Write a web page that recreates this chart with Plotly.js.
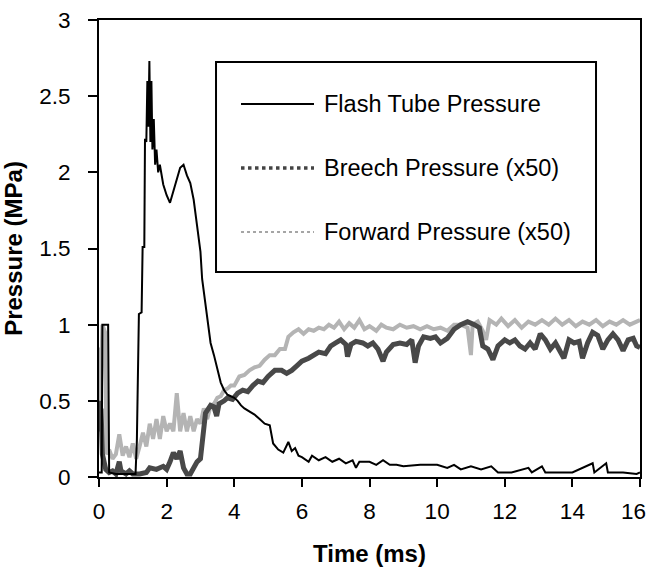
<!DOCTYPE html>
<html>
<head>
<meta charset="utf-8">
<script src="https://cdn.plot.ly/plotly-3.0.1.min.js"></script>
<style>html,body{margin:0;padding:0;background:#fff;}#chart{width:649px;height:570px;}</style>
</head>
<body>
<div id="chart"></div>
<script>
// ---- Data ----
var seriesNames = ["Flash Tube Pressure", "Breech Pressure (x50)", "Forward Pressure (x50)"];

var flashT = [0, 0.08, 0.1, 0.27, 0.3, 0.5, 0.8, 1.0, 1.08, 1.12, 1.18, 1.26, 1.29, 1.34, 1.36, 1.4, 1.43, 1.46, 1.49, 1.52, 1.55, 1.58, 1.62, 1.66, 1.7, 1.75, 1.8, 1.9, 2.0, 2.1, 2.2, 2.3, 2.4, 2.5, 2.6, 2.7, 2.8, 2.9, 3.0, 3.05, 3.1, 3.2, 3.3, 3.4, 3.5, 3.6, 3.7, 3.8, 3.9, 4.0, 4.1, 4.2, 4.3, 4.45, 4.6, 4.75, 4.9, 5.05, 5.1, 5.15, 5.3, 5.45, 5.6, 5.7, 5.8, 5.9, 6.0, 6.2, 6.3, 6.5, 6.7, 6.9, 7.1, 7.3, 7.5, 7.6, 7.7, 8.0, 8.2, 8.4, 8.6, 8.8, 9.0, 9.5, 10.0, 10.3, 10.5, 10.7, 11.0, 11.3, 11.6, 11.8, 12.2, 12.7, 12.8, 13.1, 13.2, 14.0, 14.6, 14.65, 15.0, 15.05, 15.5, 15.9, 16.0];
var flashP = [0.03, 0.03, 1.0, 1.0, 0.03, 0.02, 0.02, 0.02, 0.02, 0.24, 1.07, 1.08, 1.51, 1.51, 2.22, 2.2, 2.6, 2.3, 2.73, 2.2, 2.6, 2.15, 2.35, 2.05, 2.15, 2.0, 2.05, 1.92, 1.85, 1.80, 1.88, 1.95, 2.03, 2.05, 1.98, 1.93, 1.82, 1.65, 1.48, 1.30, 1.22, 1.05, 0.88, 0.80, 0.70, 0.62, 0.57, 0.54, 0.53, 0.52, 0.50, 0.47, 0.45, 0.43, 0.41, 0.38, 0.35, 0.34, 0.27, 0.22, 0.18, 0.16, 0.23, 0.17, 0.19, 0.14, 0.13, 0.10, 0.14, 0.11, 0.13, 0.10, 0.12, 0.09, 0.11, 0.06, 0.10, 0.10, 0.08, 0.11, 0.08, 0.08, 0.07, 0.08, 0.08, 0.06, 0.08, 0.05, 0.07, 0.05, 0.07, 0.03, 0.03, 0.06, 0.03, 0.07, 0.03, 0.03, 0.09, 0.03, 0.09, 0.03, 0.03, 0.02, 0.03];

var breechT = [0, 0.03, 0.06, 0.1, 0.15, 0.2, 0.3, 0.4, 0.5, 0.6, 0.65, 0.8, 0.9, 1.0, 1.2, 1.4, 1.5, 1.7, 1.9, 2.0, 2.1, 2.2, 2.3, 2.4, 2.5, 2.6, 2.7, 2.8, 2.9, 3.0, 3.05, 3.15, 3.3, 3.4, 3.48, 3.55, 3.7, 3.8, 3.95, 4.1, 4.25, 4.4, 4.55, 4.7, 4.85, 5.0, 5.2, 5.4, 5.55, 5.7, 5.85, 6.0, 6.2, 6.35, 6.5, 6.7, 6.85, 7.0, 7.15, 7.3, 7.35, 7.45, 7.6, 7.8, 7.95, 8.1, 8.25, 8.4, 8.5, 8.7, 8.9, 9.1, 9.25, 9.35, 9.45, 9.6, 9.8, 9.95, 10.1, 10.3, 10.5, 10.7, 10.9, 11.1, 11.25, 11.35, 11.5, 11.65, 11.8, 12.0, 12.15, 12.3, 12.45, 12.6, 12.75, 12.9, 13.05, 13.2, 13.35, 13.5, 13.65, 13.75, 13.9, 14.05, 14.2, 14.3, 14.45, 14.6, 14.75, 14.9, 15.05, 15.2, 15.35, 15.5, 15.65, 15.8, 15.9, 16.0];
var breechP = [0.5, 0.3, 0.45, 0.15, 0.1, 0.05, 0.03, 0.04, 0.02, 0.1, 0.04, 0.02, 0.04, 0.02, 0.02, 0.03, 0.06, 0.05, 0.07, 0.05, 0.1, 0.16, 0.12, 0.17, 0.06, 0.02, 0.02, 0.07, 0.1, 0.12, 0.25, 0.42, 0.47, 0.46, 0.40, 0.48, 0.50, 0.52, 0.51, 0.55, 0.57, 0.56, 0.60, 0.63, 0.62, 0.66, 0.70, 0.70, 0.68, 0.70, 0.73, 0.76, 0.78, 0.80, 0.82, 0.81, 0.86, 0.88, 0.90, 0.87, 0.79, 0.87, 0.89, 0.88, 0.86, 0.88, 0.84, 0.76, 0.82, 0.87, 0.88, 0.87, 0.90, 0.75, 0.86, 0.92, 0.91, 0.92, 0.88, 0.91, 0.97, 1.00, 1.02, 1.00, 0.98, 0.86, 0.84, 0.77, 0.86, 0.90, 0.88, 0.90, 0.86, 0.84, 0.88, 0.84, 0.94, 0.90, 0.84, 0.88, 0.82, 0.78, 0.90, 0.88, 0.89, 0.78, 0.88, 0.95, 0.93, 0.84, 0.90, 0.94, 0.90, 0.83, 0.90, 0.91, 0.86, 0.85];

var forwardT = [0, 0.05, 0.1, 0.18, 0.22, 0.3, 0.4, 0.5, 0.6, 0.7, 0.8, 0.9, 1.0, 1.1, 1.2, 1.3, 1.4, 1.5, 1.6, 1.7, 1.8, 1.9, 2.0, 2.1, 2.2, 2.3, 2.4, 2.5, 2.6, 2.7, 2.8, 2.9, 3.0, 3.1, 3.2, 3.3, 3.4, 3.5, 3.6, 3.7, 3.8, 3.9, 4.0, 4.15, 4.3, 4.45, 4.6, 4.75, 4.9, 5.05, 5.2, 5.35, 5.5, 5.6, 5.75, 5.9, 6.05, 6.2, 6.35, 6.5, 6.65, 6.8, 6.95, 7.1, 7.25, 7.4, 7.55, 7.7, 7.85, 8.0, 8.2, 8.35, 8.5, 8.7, 8.9, 9.1, 9.3, 9.5, 9.7, 9.9, 10.1, 10.3, 10.5, 10.7, 10.9, 11.0, 11.05, 11.2, 11.35, 11.45, 11.55, 11.75, 11.9, 12.1, 12.3, 12.5, 12.7, 12.9, 13.1, 13.3, 13.5, 13.7, 13.9, 14.1, 14.3, 14.5, 14.7, 14.9, 15.1, 15.3, 15.5, 15.7, 15.9, 16.0];
var forwardP = [0.85, 0.5, 1.0, 0.95, 0.15, 0.18, 0.12, 0.15, 0.28, 0.14, 0.2, 0.13, 0.22, 0.12, 0.2, 0.29, 0.2, 0.35, 0.25, 0.38, 0.25, 0.4, 0.3, 0.35, 0.3, 0.55, 0.3, 0.42, 0.3, 0.4, 0.3, 0.38, 0.35, 0.45, 0.38, 0.47, 0.48, 0.52, 0.53, 0.57, 0.58, 0.6, 0.6, 0.66, 0.67, 0.7, 0.72, 0.73, 0.77, 0.8, 0.8, 0.84, 0.84, 0.92, 0.95, 0.97, 0.94, 0.97, 0.96, 0.98, 0.97, 1.0, 0.98, 1.02, 0.97, 1.01, 0.98, 1.03, 0.97, 0.99, 0.96, 1.0, 0.98, 0.97, 1.0, 0.98, 0.99, 0.97, 0.99, 0.97, 0.98, 0.96, 1.0, 1.0, 0.98, 0.8, 1.0, 1.02, 0.96, 0.9, 1.03, 1.0, 1.04, 0.99, 1.03, 0.98, 1.02, 1.0, 1.03, 1.0, 1.04, 1.0, 1.03, 0.99, 1.02, 1.0, 1.03, 0.99, 1.02, 1.0, 1.03, 1.0, 1.02, 1.03];

var xTickVals = [0, 2, 4, 6, 8, 10, 12, 14, 16];
var xTickText = ["0", "2", "4", "6", "8", "10", "12", "14", ""];   // last label placed separately so it stays inside the page
var lastXTickLabel = "16";
var yTickVals = [0, 0.5, 1, 1.5, 2, 2.5, 3];

// ---- Styles ----
var FONT = "Liberation Sans, Arial, sans-serif";
var styles = [
  {color: "#000000", width: 2, dash: "solid"},
  {color: "#484848", width: 5, dash: "solid"},
  {color: "#b4b4b4", width: 4, dash: "solid"}
];

var traces = [
  {x: forwardT, y: forwardP, name: seriesNames[2], mode: "lines", line: styles[2], showlegend: false, hoverinfo: "x+y+name"},
  {x: breechT, y: breechP, name: seriesNames[1], mode: "lines", line: styles[1], showlegend: false, hoverinfo: "x+y+name"},
  {x: flashT, y: flashP, name: seriesNames[0], mode: "lines", line: styles[0], showlegend: false, hoverinfo: "x+y+name"}
];

// Manual legend (paper coordinates)
var legBox = {x0: 0.2163, x1: 0.9187, y0: 0.4486, y1: 0.9081};
var legRowsY = [0.8162, 0.6761, 0.5361];
var legSampleX = [0.2625, 0.3974];
var legTextX = 0.4122;
var legSampleStyles = [
  {color: "#000000", width: 2, dash: "solid"},
  {color: "#444444", width: 3.5, dash: "dot"},
  {color: "#888888", width: 1.5, dash: "dot"}
];

var shapes = [{type: "rect", xref: "paper", yref: "paper", x0: legBox.x0, x1: legBox.x1, y0: legBox.y0, y1: legBox.y1,
  line: {color: "#000", width: 2}, fillcolor: "rgba(255,255,255,1)", layer: "above"}];
var annotations = [];
for (var i = 0; i < seriesNames.length; i++) {
  shapes.push({type: "line", xref: "paper", yref: "paper", x0: legSampleX[0], x1: legSampleX[1], y0: legRowsY[i], y1: legRowsY[i],
    line: legSampleStyles[i], layer: "above"});
  annotations.push({xref: "paper", yref: "paper", x: legTextX, y: legRowsY[i], xanchor: "left", yanchor: "middle",
    text: seriesNames[i], showarrow: false, font: {family: FONT, size: 23.5, color: "#000"}});
}
// last x tick label, kept fully inside the page
annotations.push({xref: "paper", yref: "paper", x: 1, y: 0, xanchor: "right", yanchor: "middle", xshift: 8, yshift: -34,
  text: lastXTickLabel, showarrow: false, font: {family: FONT, size: 22.5, color: "#000"}});

var layout = {
  width: 649, height: 570,
  margin: {l: 99, r: 9, t: 20, b: 93, pad: 0},
  paper_bgcolor: "#fff", plot_bgcolor: "#fff",
  showlegend: false,
  font: {family: FONT, size: 22, color: "#000"},
  xaxis: {
    range: [0, 16], tickmode: "array", tickvals: xTickVals, ticktext: xTickText,
    showgrid: false, zeroline: false, showline: true, linecolor: "#000", linewidth: 2, mirror: true,
    ticks: "outside", ticklen: 8, tickwidth: 2, tickcolor: "#000", ticklabelstandoff: 5,
    tickfont: {family: FONT, size: 22.5, color: "#000"},
    title: {text: "<b>Time (ms)</b>", font: {family: FONT, size: 24, color: "#000"}, standoff: 22}
  },
  yaxis: {
    range: [0, 3], tickmode: "array", tickvals: yTickVals, ticktext: yTickVals.map(String),
    showgrid: false, zeroline: false, showline: true, linecolor: "#000", linewidth: 2, mirror: true,
    ticks: "outside", ticklen: 9, tickwidth: 2, tickcolor: "#000", ticklabelstandoff: 13,
    tickfont: {family: FONT, size: 22.5, color: "#000"},
    title: {text: "<b>Pressure (MPa)</b>", font: {family: FONT, size: 24, color: "#000"}, standoff: 12}
  },
  shapes: shapes,
  annotations: annotations
};

Plotly.newPlot("chart", traces, layout, {displayModeBar: false, staticPlot: true});
</script>
</body>
</html>
